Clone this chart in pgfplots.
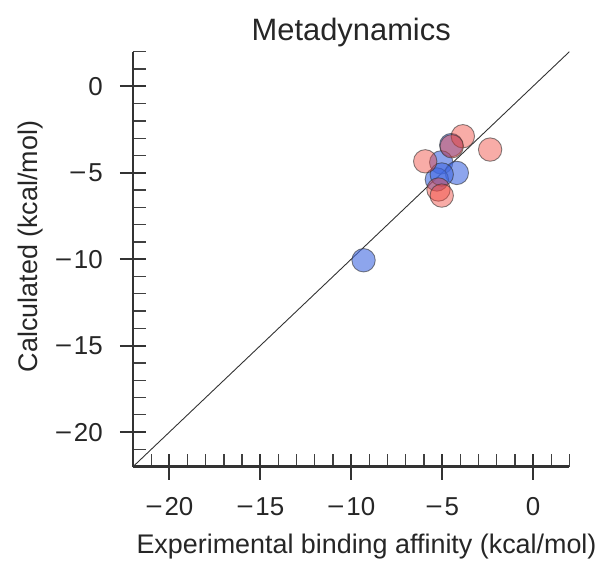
\documentclass[border=0pt]{standalone}
\usepackage{fontspec}
\setmainfont{Liberation Sans}
\usepackage{pgfplots}
\pgfplotsset{compat=1.18}
\definecolor{blueC}{RGB}{65,105,225}
\definecolor{redC}{RGB}{240,70,60}
\newcommand\mn{\scalebox{1.15}[1]{−}\kern1.8bp}
\begin{document}
\begin{tikzpicture}
\useasboundingbox (-133bp,-96.3bp) rectangle (472bp,466.7bp);
\begin{axis}[
  at={(0,0)}, anchor=south west,
  scale only axis, width=436.4bp, height=415bp,
  xmin=-22, xmax=2, ymin=-22, ymax=2,
  axis x line*=bottom, axis y line*=left,
  axis line style={line width=2.5bp, black!80, -},
  xtick={-20,-15,-10,-5,0}, ytick={-20,-15,-10,-5,0},
  xticklabels={\mn20,\mn15,\mn10,\mn5,0}, yticklabels={\mn20,\mn15,\mn10,\mn5,0},
  minor xtick={-21,-19,-18,-17,-16,-14,-13,-12,-11,-9,-8,-7,-6,-4,-3,-2,-1,1,2},
  minor ytick={-21,-19,-18,-17,-16,-14,-13,-12,-11,-9,-8,-7,-6,-4,-3,-2,-1,1,2},
  tick align=inside,
  major tick length=13bp, minor tick length=13bp,
  major tick style={line width=2bp, black!80},
  minor tick style={line width=1.3bp, black!75},
  extra x ticks={-20,-15,-10,-5,0}, extra x tick labels={},
  extra x tick style={tick align=outside},
  extra y ticks={-20,-15,-10,-5,0}, extra y tick labels={},
  extra y tick style={tick align=outside},
  tick label style={font=\fontsize{26}{30}\selectfont, text=black!85},
  xticklabel style={anchor=base, inner sep=0pt, yshift=-48.3bp},
  yticklabel style={anchor=east, inner sep=0pt, xshift=-30bp},
  xlabel={Experimental binding affinity (kcal/mol)},
  ylabel={Calculated (kcal/mol)},
  label style={font=\fontsize{27}{32}\selectfont, text=black!85},
  x label style={at={(axis description cs:0,-0.2087)}, anchor=base west},
  y label style={at={(axis description cs:-0.2177,0.5306)}, anchor=base},
  title={Metadynamics},
  title style={font=\fontsize{31}{36}\selectfont, text=black!85, at={(axis description cs:0.5,1.013)}, anchor=base},
  clip=false,
]
\addplot[black!80, line width=0.9bp] coordinates {(-22,-22) (2,2)};
\addplot[only marks, mark=*, mark size=11.7bp,
  mark options={fill=blueC, fill opacity=0.6, draw=black!80, draw opacity=0.6, line width=0.9bp}]
  coordinates {
  (-4.50,-3.40) (-5.05,-4.40) (-4.19,-5.01) (-5.29,-5.39) (-5.02,-5.10) (-9.32,-10.06)
  };
\addplot[only marks, mark=*, mark size=11.7bp,
  mark options={fill=redC, fill opacity=0.45, draw=black!80, draw opacity=0.6, line width=0.9bp}]
  coordinates {
  (-3.86,-2.89) (-4.47,-3.47) (-2.36,-3.66) (-5.93,-4.34) (-5.20,-5.97) (-5.02,-6.32)
  };
\end{axis}
\end{tikzpicture}
\end{document}
